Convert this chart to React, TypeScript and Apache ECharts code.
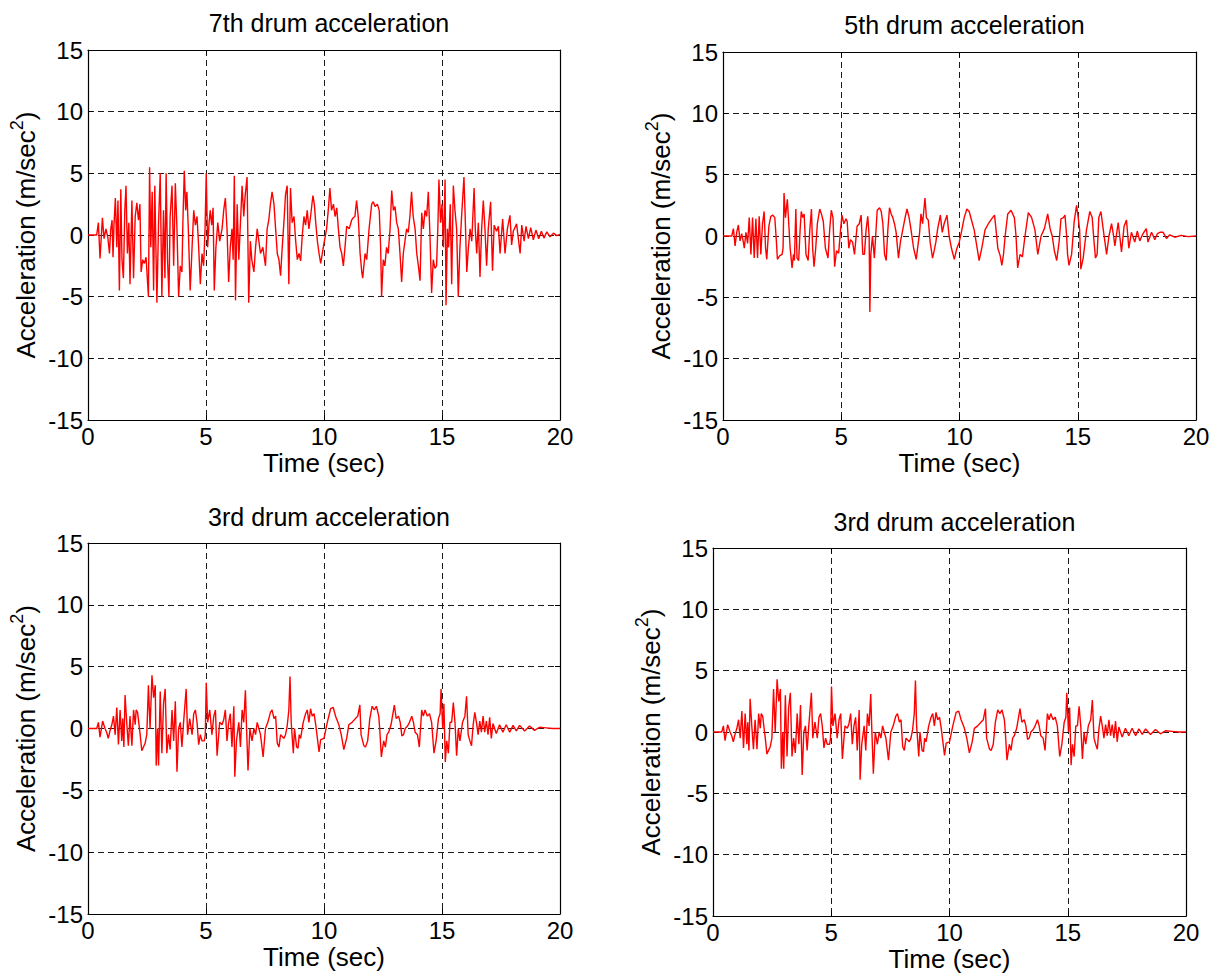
import React, { useEffect, useRef } from "react";
import * as echarts from "echarts";

// ---------- data ----------
const drum7Time = [
  0, 0.37, 0.44, 0.51, 0.61, 0.68, 0.76, 0.84, 0.91, 0.96, 1.02, 1.06, 1.1, 1.16, 1.22, 1.27, 1.33, 1.39, 1.44, 1.5,
  1.56, 1.61, 1.67, 1.73, 1.78, 1.86, 1.93, 2.0, 2.07, 2.14, 2.2, 2.25, 2.32, 2.39, 2.46, 2.56, 2.61, 2.66, 2.72, 2.78,
  2.83, 2.92, 2.99, 3.06, 3.13, 3.2, 3.26, 3.31, 3.37, 3.43, 3.48, 3.56, 3.63, 3.7, 3.77, 3.84, 3.91, 3.98, 4.02, 4.08,
  4.14, 4.19, 4.25, 4.33, 4.41, 4.48, 4.55, 4.62, 4.69, 4.76, 4.83, 4.9, 4.96, 5.01, 5.07, 5.13, 5.18, 5.24, 5.3, 5.35,
  5.42, 5.5, 5.58, 5.68, 5.75, 5.82, 5.89, 5.96, 6.03, 6.1, 6.15, 6.2, 6.25, 6.32, 6.39, 6.46, 6.53, 6.6, 6.66, 6.74,
  6.81, 6.88, 6.94, 7.03, 7.1, 7.17, 7.24, 7.31, 7.41, 7.52, 7.59, 7.66, 7.73, 7.8, 7.88, 7.95, 8.02, 8.09, 8.16, 8.23,
  8.3, 8.37, 8.44, 8.51, 8.58, 8.65, 8.73, 8.8, 8.87, 8.94, 9.01, 9.08, 9.15, 9.22, 9.29, 9.36, 9.43, 9.53, 9.59, 9.65,
  9.72, 9.79, 9.86, 9.97, 10.11, 10.18, 10.25, 10.32, 10.4, 10.47, 10.54, 10.61, 10.68, 10.75, 10.82, 10.89, 10.96, 11.07, 11.17, 11.24,
  11.31, 11.38, 11.45, 11.53, 11.6, 11.64, 11.74, 11.81, 11.91, 12.02, 12.09, 12.16, 12.26, 12.34, 12.4, 12.44, 12.51, 12.58, 12.65, 12.72,
  12.8, 12.87, 12.94, 13.01, 13.08, 13.15, 13.22, 13.29, 13.36, 13.43, 13.5, 13.57, 13.64, 13.71, 13.78, 13.86, 13.93, 14.0, 14.07, 14.14,
  14.21, 14.28, 14.35, 14.42, 14.49, 14.56, 14.63, 14.7, 14.77, 14.83, 14.87, 14.94, 15.0, 15.06, 15.13, 15.17, 15.23, 15.28, 15.35, 15.41,
  15.48, 15.55, 15.62, 15.69, 15.76, 15.83, 15.93, 15.99, 16.05, 16.12, 16.19, 16.26, 16.36, 16.41, 16.47, 16.54, 16.61, 16.68, 16.75, 16.82,
  16.89, 16.96, 17.06, 17.14, 17.21, 17.31, 17.39, 17.46, 17.57, 17.67, 17.77, 17.88, 17.95, 18.02, 18.16, 18.31, 18.38, 18.48, 18.56, 18.66,
  18.76, 18.87, 18.98, 19.1, 19.21, 19.32, 19.44, 19.58, 19.72, 19.86, 20.0,
];
const drum7Accel = [
  0, 0, 1.0, -1.9, 1.4, -0.3, 0.5, -0.2, -1.5, 0.4, 1.2, -1.8, 0.8, 3.0, -1.0, 2.8, -4.5, 3.7, -2.0, -3.5,
  2.0, 4.0, -1.5, 1.0, -4.0, 2.8, -3.5, 1.5, 2.6, 1.2, 2.5, -3.0, -2.0, -2.3, -1.8, -5.0, 5.5, -1.0, 3.5, -4.5,
  4.0, -5.5, 1.0, 5.0, -5.0, 2.0, -3.5, 5.0, -2.0, -5.0, 1.5, 4.0, -2.5, 4.2, 0.5, -5.0, -2.5, -3.0, 1.0, 5.2,
  2.0, 3.5, 0.5, -4.5, -1.0, 2.0, 0.8, 1.5, -1.0, -4.0, -1.5, -2.5, 0.5, 5.0, -1.0, 1.0, 2.0, 0.8, 2.2, -4.5,
  -1.0, 1.0, -0.5, 0.5, 2.0, 3.0, 0.5, -3.8, -1.0, 0.5, -2.0, 4.8, -5.3, 2.5, -2.0, 1.0, 4.0, 1.5, 3.2, 4.7,
  -5.5, -0.5, -2.0, -3.0, -1.0, 0.5, -0.5, -1.5, -1.0, -2.5, 0.5, 1.2, 2.5, 3.5, 2.5, 0.5, -1.5, -2.0, -3.3, -1.0,
  1.0, 3.3, 4.0, -4.0, 3.8, 1.0, 1.5, -0.5, -2.0, -1.5, -2.1, 0.0, 1.5, 0.8, 2.0, 0.5, 1.5, 3.2, 2.5, 1.0,
  -0.5, -1.5, -2.3, -1.0, 0.5, 2.0, 3.8, 2.0, 2.5, 1.5, 2.2, 0.5, -1.0, -1.5, -2.5, -1.0, 0.7, 0.5, 1.2, 1.4,
  1.5, 2.8, 1.5, -1.5, -3.0, -3.5, -1.5, -2.0, 0.5, 2.5, 2.7, 2.3, 2.5, 2.0, -1.0, -5.0, -2.0, -2.5, -1.0, -1.5,
  0.5, 3.6, 2.0, 2.3, 1.0, 0.5, -1.5, -3.8, -1.5, -0.5, 0.5, 0.2, 1.5, 3.5, 1.5, 0.5, -1.5, -2.5, -3.7, 1.8,
  0.5, 2.0, 1.5, 3.5, 0.0, -4.7, -2.0, -2.7, -2.5, 1.0, 4.5, 1.0, 2.5, -1.0, 4.5, -5.7, 0.5, -1.0, 2.5, -4.0,
  4.0, 2.0, 0.5, -5.0, -1.0, 1.5, 4.7, 1.0, -3.0, -1.0, 0.5, -0.5, 3.8, 0.5, -1.5, 1.0, -3.4, 0.5, 2.8, 0.5,
  -2.5, 0.5, 2.7, -2.9, 0.8, 0.3, 0.7, -1.5, 1.3, -1.5, 0.5, 1.6, -0.8, 0.3, 0.9, -1.5, 0.8, -0.5, 0.7, -0.3,
  0.6, -0.4, 0.4, -0.3, 0.3, -0.25, 0.25, -0.15, 0.15, -0.05, 0.05,
];

const drum5Time = [
  0, 0.37, 0.44, 0.51, 0.58, 0.65, 0.72, 0.79, 0.86, 0.9, 0.97, 1.04, 1.11, 1.18, 1.25, 1.32, 1.39, 1.46, 1.53, 1.6,
  1.67, 1.74, 1.8, 1.85, 1.94, 2.02, 2.11, 2.19, 2.26, 2.3, 2.4, 2.5, 2.54, 2.58, 2.64, 2.68, 2.72, 2.78, 2.84, 2.92,
  2.98, 3.02, 3.08, 3.13, 3.2, 3.26, 3.31, 3.37, 3.43, 3.51, 3.6, 3.67, 3.74, 3.79, 3.85, 3.92, 3.99, 4.09, 4.16, 4.24,
  4.33, 4.44, 4.51, 4.58, 4.65, 4.72, 4.8, 4.89, 4.97, 5.03, 5.11, 5.2, 5.25, 5.32, 5.39, 5.48, 5.56, 5.67, 5.76, 5.84,
  5.91, 5.98, 6.05, 6.12, 6.18, 6.21, 6.25, 6.32, 6.4, 6.52, 6.62, 6.69, 6.76, 6.83, 6.9, 6.97, 7.04, 7.11, 7.18, 7.25,
  7.32, 7.42, 7.5, 7.6, 7.7, 7.78, 7.87, 7.95, 8.06, 8.17, 8.26, 8.31, 8.37, 8.44, 8.54, 8.6, 8.68, 8.76, 8.86, 8.93,
  9.0, 9.07, 9.19, 9.27, 9.35, 9.47, 9.56, 9.66, 9.78, 9.89, 9.99, 10.1, 10.2, 10.31, 10.41, 10.52, 10.62, 10.73, 10.83, 10.94,
  11.08, 11.22, 11.36, 11.48, 11.53, 11.62, 11.72, 11.79, 11.86, 11.93, 12.04, 12.18, 12.32, 12.39, 12.43, 12.46, 12.56, 12.66, 12.77, 12.91,
  13.05, 13.19, 13.31, 13.45, 13.59, 13.73, 13.83, 13.92, 14.01, 14.11, 14.21, 14.29, 14.39, 14.46, 14.53, 14.57, 14.63, 14.74, 14.85, 14.95,
  15.02, 15.08, 15.13, 15.23, 15.37, 15.51, 15.61, 15.69, 15.75, 15.82, 15.89, 15.98, 16.08, 16.15, 16.22, 16.32, 16.43, 16.5, 16.57, 16.71,
  16.85, 16.96, 17.06, 17.16, 17.27, 17.41, 17.52, 17.62, 17.76, 17.9, 17.97, 18.12, 18.26, 18.37, 18.47, 18.61, 18.75, 18.89, 19.1, 19.38,
  19.66, 20.0,
];
const drum5Accel = [
  0, 0, 0.6, -0.8, 0.3, 0.9, -0.4, 0.2, -0.5, -1.0, 0.3, -0.6, 1.5, -1.5, 1.5, -1.8, 1.4, -1.8, 1.6, -1.5,
  1.0, 2.0, -1.0, -1.9, 0.8, 1.6, 1.7, 1.5, -0.5, -1.9, -1.6, -1.5, -1.0, 3.5, 1.5, 2.2, 3.0, 1.0, -1.0, -2.6,
  -1.5, -2.0, 2.2, -1.8, -2.0, 0.5, 2.0, 1.5, 1.8, -1.5, -2.0, 0.5, 2.2, -1.0, -2.5, -1.0, 1.0, 2.2, 1.8, 1.2,
  -1.0, -1.8, 0.5, 2.1, 1.5, -2.5, -1.2, -1.4, 0.5, 1.7, 1.0, 1.4, 1.2, -1.0, -0.3, -0.5, -1.5, 0.8, 1.0, 1.7,
  -1.5, -1.5, 0.5, 1.6, 0.0, -6.2, -1.5, 0.0, -1.8, 2.1, 2.3, 2.0, 1.0, -1.5, -2.0, 0.5, 2.3, 1.8, 1.5, 1.0,
  0.3, -1.8, -0.5, 0.5, 1.5, 2.2, 1.5, 0.5, -1.0, -1.9, -0.5, 0.2, 1.8, 1.0, 3.1, 1.5, 1.3, -0.5, -1.8, -1.2,
  -0.5, 0.5, 1.7, 0.3, 1.0, 1.7, 0.0, -1.0, -1.9, -1.0, -0.5, 0.5, 1.5, 2.2, 2.0, 1.2, 0.5, -0.8, -2.0, -1.0,
  0.5, 1.0, 1.4, 1.7, 0.8, -1.0, -1.6, -2.4, -1.5, 0.0, 1.8, 2.1, 1.5, 0.0, -1.5, -2.6, -1.5, -1.7, 0.0, 1.9,
  1.5, 0.5, -1.5, 0.0, 0.6, 1.8, 0.6, 0.0, -1.2, -2.0, -0.5, 1.4, 1.5, 1.7, 0.0, -1.5, -2.4, -1.5, 1.2, 2.5,
  1.5, 0.5, -2.7, -1.8, 0.5, 2.0, 1.5, -0.5, -1.8, -1.5, 1.5, 2.0, 0.5, -0.5, -1.5, 0.0, 1.0, 0.2, -0.8, 1.1,
  -1.3, 0.8, 1.3, -1.0, 0.3, -0.5, 0.4, -0.4, 0.2, 0.6, -0.5, 0.3, -0.3, 0.2, 0.3, 0.3, -0.2, 0.1, -0.1, 0.05,
  -0.05, 0,
];

const drum3Time = [
  0, 0.37, 0.44, 0.51, 0.62, 0.72, 0.79, 0.86, 0.93, 1.01, 1.08, 1.15, 1.22, 1.29, 1.36, 1.43, 1.47, 1.52, 1.57, 1.64,
  1.71, 1.78, 1.86, 1.93, 2.0, 2.04, 2.1, 2.21, 2.28, 2.35, 2.42, 2.49, 2.56, 2.63, 2.71, 2.78, 2.85, 2.89, 2.95, 2.99,
  3.06, 3.13, 3.2, 3.27, 3.34, 3.41, 3.48, 3.56, 3.63, 3.7, 3.77, 3.84, 3.91, 3.98, 4.05, 4.16, 4.22, 4.31, 4.41, 4.48,
  4.55, 4.62, 4.69, 4.76, 4.83, 4.93, 4.97, 5.01, 5.07, 5.16, 5.25, 5.33, 5.4, 5.47, 5.58, 5.68, 5.75, 5.82, 5.89, 5.96,
  6.03, 6.1, 6.18, 6.22, 6.29, 6.39, 6.46, 6.53, 6.6, 6.67, 6.71, 6.78, 6.86, 6.95, 7.03, 7.1, 7.17, 7.31, 7.42, 7.52,
  7.62, 7.73, 7.8, 7.88, 7.95, 8.02, 8.09, 8.16, 8.3, 8.37, 8.44, 8.51, 8.56, 8.61, 8.7, 8.75, 8.84, 8.9, 8.95, 9.01,
  9.12, 9.22, 9.29, 9.36, 9.43, 9.5, 9.58, 9.65, 9.72, 9.79, 9.86, 10.0, 10.14, 10.28, 10.39, 10.49, 10.63, 10.73, 10.84, 10.96,
  11.05, 11.19, 11.33, 11.43, 11.52, 11.57, 11.69, 11.76, 11.85, 11.94, 12.04, 12.13, 12.22, 12.32, 12.36, 12.43, 12.53, 12.6, 12.67, 12.74,
  12.84, 12.92, 12.98, 13.06, 13.16, 13.23, 13.3, 13.37, 13.44, 13.54, 13.62, 13.72, 13.79, 13.86, 13.96, 14.04, 14.14, 14.21, 14.28, 14.38,
  14.47, 14.56, 14.66, 14.75, 14.85, 14.92, 14.96, 15.03, 15.08, 15.14, 15.2, 15.27, 15.34, 15.41, 15.48, 15.55, 15.62, 15.69, 15.76, 15.87,
  15.97, 16.04, 16.11, 16.18, 16.25, 16.32, 16.39, 16.46, 16.53, 16.6, 16.67, 16.74, 16.81, 16.88, 16.95, 17.02, 17.09, 17.16, 17.3, 17.44,
  17.58, 17.72, 17.87, 18.01, 18.15, 18.29, 18.5, 18.71, 18.92, 19.13, 19.41, 19.69, 20.0,
];
const drum3Accel = [
  0, 0, 0.5, -0.7, 0.6, 0.0, -0.3, -0.8, -0.2, 0.3, 1.0, -0.5, 1.7, -1.3, 1.5, -1.0, 0.8, -1.5, 2.7, 0.5,
  -1.4, 1.0, -1.4, 1.5, 0.3, 1.5, 1.3, -0.5, -1.8, -1.5, -1.2, -0.5, 3.5, 0.0, 4.3, 2.5, 3.5, -3.0, 0.0, -3.0,
  3.0, -2.0, 2.0, 3.2, -2.0, -0.5, -1.7, 1.5, -1.0, 2.2, -3.5, 0.0, 0.5, -1.5, 0.5, 3.2, -0.5, 0.8, -0.5, 1.2,
  1.5, 0.5, -1.3, -0.5, -1.0, -1.0, -0.5, 3.7, 0.5, 1.5, -0.5, 1.0, 1.5, -2.2, 0.5, 0.3, 0.7, 1.5, -1.0, 0.5,
  1.2, -1.5, 1.8, -3.9, -1.0, 0.5, -1.5, 1.5, 0.5, 3.1, 0.5, -3.4, 0.0, -1.0, 0.0, -0.5, 0.5, -0.5, -2.3, 0.0,
  0.5, 1.3, 1.5, 0.8, 1.0, -1.2, -1.5, -0.5, -0.8, -0.5, 0.2, 1.5, 4.2, 0.5, -2.0, 0.0, -1.5, -1.6, -0.5, -0.8,
  0.5, 1.2, 1.5, 0.5, 1.6, 1.0, 1.2, 0.3, -0.8, -1.9, -0.9, -0.8, 0.5, 1.6, 1.7, 1.0, 0.3, -0.5, -1.7, -0.8,
  0.3, 0.5, 0.8, 1.0, 1.9, -0.5, -1.4, -1.5, -1.0, 0.8, 1.8, 1.5, 1.8, 1.0, 0.0, -2.3, -1.0, -1.5, -0.5, -0.3,
  0.3, 1.2, 1.9, 0.8, 1.0, 0.5, -0.6, -0.5, 0.0, 0.2, 0.5, 1.0, 0.5, -0.3, -0.5, -1.5, 1.5, 1.0, 1.5, 1.0,
  1.2, 0.5, -2.0, -1.0, 0.8, 1.2, 3.2, 0.0, 2.0, -2.7, -1.0, -2.0, 0.5, 0.5, 2.1, 0.5, -2.2, 0.0, -1.0, 0.5,
  1.0, 2.6, -0.5, -1.0, -1.4, 0.3, 1.3, 0.5, -0.5, 0.6, -0.3, 1.0, -0.3, 0.6, -0.5, 0.9, -0.8, 0.4, -0.4, 0.3,
  -0.3, 0.3, -0.3, 0.25, -0.2, 0.25, -0.2, 0.2, -0.15, 0.1, 0.05, 0.0, 0.0,
];

const panelTitles = [
  "7th drum acceleration",
  "5th drum acceleration",
  "3rd drum acceleration",
  "3rd drum acceleration",
];
const xAxisTitle = "Time (sec)";
const yAxisTitle = "Acceleration (m/sec{sup|2})";
const xRange = [0, 20];
const xStep = 5;
const yRange = [-15, 15];
const yStep = 5;

// ---------- layout / style ----------
const FONT = "Arial, 'Liberation Sans', Helvetica, sans-serif";
const layout = [
  { left: 88, top: 50, width: 472, height: 370, titleTop: 5 },
  { left: 723, top: 52, width: 473, height: 368, titleTop: 7 },
  { left: 88, top: 543, width: 472, height: 371, titleTop: 499 },
  { left: 713, top: 548, width: 473, height: 368, titleTop: 504 },
];

export default function App() {
  const ref = useRef<HTMLDivElement>(null);

  useEffect(() => {
    if (!ref.current) return;
    const chart = echarts.init(ref.current, undefined, { renderer: "svg" });

    const panels = [
      { time: drum7Time, accel: drum7Accel },
      { time: drum5Time, accel: drum5Accel },
      { time: drum3Time, accel: drum3Accel },
      { time: drum3Time, accel: drum3Accel },
    ];

    const gridLine = { show: true, lineStyle: { color: "#1a1a1a", width: 1, type: [6, 4] as number[] } };
    const tick = { show: true, inside: true, length: 5, lineStyle: { color: "#000", width: 1 } };
    const boxLine = { show: true, onZero: false, lineStyle: { color: "#000", width: 1.2 } };

    const xAxes: any[] = [];
    const yAxes: any[] = [];
    layout.forEach((_, i) => {
      xAxes.push({
        type: "value",
        gridIndex: i,
        min: xRange[0],
        max: xRange[1],
        interval: xStep,
        position: "bottom",
        axisLine: boxLine,
        axisTick: tick,
        axisLabel: { show: true, color: "#000", fontSize: 24, fontFamily: FONT, margin: 4 },
        splitLine: gridLine,
        name: xAxisTitle,
        nameLocation: "middle",
        nameGap: 30,
        nameTextStyle: { color: "#000", fontSize: 26, fontFamily: FONT },
      });
      yAxes.push({
        type: "value",
        gridIndex: i,
        min: yRange[0],
        max: yRange[1],
        interval: yStep,
        position: "left",
        axisLine: boxLine,
        axisTick: tick,
        axisLabel: { show: true, color: "#000", fontSize: 24, fontFamily: FONT, margin: 5 },
        splitLine: gridLine,
        name: yAxisTitle,
        nameLocation: "middle",
        nameRotate: 90,
        nameGap: 41,
        nameTextStyle: {
          color: "#000",
          fontSize: 26,
          lineHeight: 36,
          fontFamily: FONT,
          rich: {
            sup: { fontSize: 18, fontFamily: FONT, color: "#000", verticalAlign: "top", lineHeight: 18 },
          },
        },
      });
    });
    // mirror axes (top / right) that close the box and carry inward ticks
    layout.forEach((_, i) => {
      xAxes.push({
        type: "value",
        gridIndex: i,
        min: xRange[0],
        max: xRange[1],
        interval: xStep,
        position: "top",
        axisLine: boxLine,
        axisTick: tick,
        axisLabel: { show: false },
        splitLine: { show: false },
      });
      yAxes.push({
        type: "value",
        gridIndex: i,
        min: yRange[0],
        max: yRange[1],
        interval: yStep,
        position: "right",
        axisLine: boxLine,
        axisTick: tick,
        axisLabel: { show: false },
        splitLine: { show: false },
      });
    });

    chart.setOption({
      animation: false,
      backgroundColor: "#fff",
      title: layout.map((g, i) => ({
        text: panelTitles[i],
        left: g.left + g.width / 2,
        top: g.titleTop,
        textAlign: "center",
        textStyle: { color: "#000", fontSize: 25, fontWeight: "normal", fontFamily: FONT },
      })),
      grid: layout.map((g) => ({
        left: g.left,
        top: g.top,
        width: g.width,
        height: g.height,
        containLabel: false,
        show: false,
      })),
      xAxis: xAxes,
      yAxis: yAxes,
      series: panels.map((p, i) => ({
        type: "line",
        xAxisIndex: i,
        yAxisIndex: i,
        data: p.time.map((t, k) => [t, p.accel[k]]),
        symbol: "none",
        showSymbol: false,
        lineStyle: { color: "#ff0000", width: 1.4 },
        itemStyle: { color: "#ff0000" },
        z: 3,
      })),
    });

    return () => chart.dispose();
  }, []);

  return (
    <div
      ref={ref}
      style={{ position: "absolute", left: 0, top: 0, width: 1216, height: 974, background: "#fff" }}
    />
  );
}
